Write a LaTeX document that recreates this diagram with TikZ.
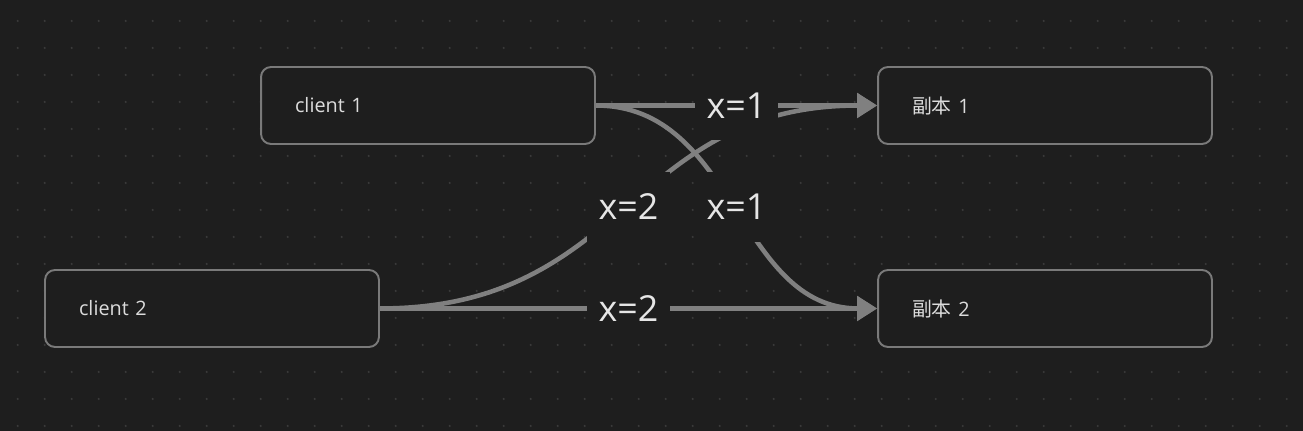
\documentclass[tikz,border=0pt]{standalone}
\usepackage{fontspec}
\setmainfont{Open Sans}
\newfontfamily\cjk{Noto Sans CJK SC}
\usetikzlibrary{arrows.meta}
\definecolor{canvas}{HTML}{1E1E1E}
\definecolor{griddot}{HTML}{3A3A3A}
\definecolor{edgegray}{HTML}{808080}
\definecolor{boxline}{HTML}{7A7A7A}
\definecolor{textgray}{HTML}{DCDCDC}
\definecolor{labelwhite}{HTML}{E6E6E6}
\tikzset{
  box/.style={draw=boxline, line width=1.1pt, fill=canvas, rounded corners=0.2cm,
    minimum width=6.68cm, minimum height=1.54cm, text width=5.32cm,
    inner xsep=0.68cm, inner ysep=0pt, align=left, text=textgray,
    font=\fontsize{11.3}{13}\selectfont},
  msg/.style={draw=edgegray, line width=2.6pt, -{Triangle[length=0.4cm,width=0.48cm]}},
  msglabel/.style={fill=canvas, minimum width=1.68cm, minimum height=1.4cm,
    inner sep=0pt, text=labelwhite, font=\fontsize{20.4}{24}\selectfont}
}
\begin{document}
\begin{tikzpicture}[x=0.02cm, y=-0.02cm]
      \useasboundingbox (0,0) rectangle (1303,431);
      \fill[canvas] (0,0) rectangle (1303,431);
      \foreach \i in {0,...,47}
        \foreach \j in {0,...,15}
          \fill[griddot] (17.7+27*\i, 21+27*\j) circle (0.024cm);
      \draw
        (428,105.5) node[box] (c1){client 1}
        (212,308.5) node[box] (c2){client 2}
        (1045,105.5) node[box] (r1){{\cjk 副本} 1}
        (1045,308.5) node[box] (r2){{\cjk 副本} 2};
      \begin{scope}[msg]
        \draw (c1.east) -- (r1.west) coordinate[pos=0.5] (m11);
        \draw (c1.east) .. controls +(140,0) and +(-140,0) .. (r2.west) coordinate[pos=0.5] (m12);
        \draw (c2.east) .. controls +(248,0) and +(-248,0) .. (r1.west) coordinate[pos=0.5] (m21);
        \draw (c2.east) -- (r2.west) coordinate[pos=0.5] (m22);
      \end{scope}
      \node[msglabel] at (m11) {x=1};
      \node[msglabel] at (m12) {x=1};
      \node[msglabel] at (m21) {x=2};
      \node[msglabel] at (m22) {x=2};
    \end{tikzpicture}
\end{document}
